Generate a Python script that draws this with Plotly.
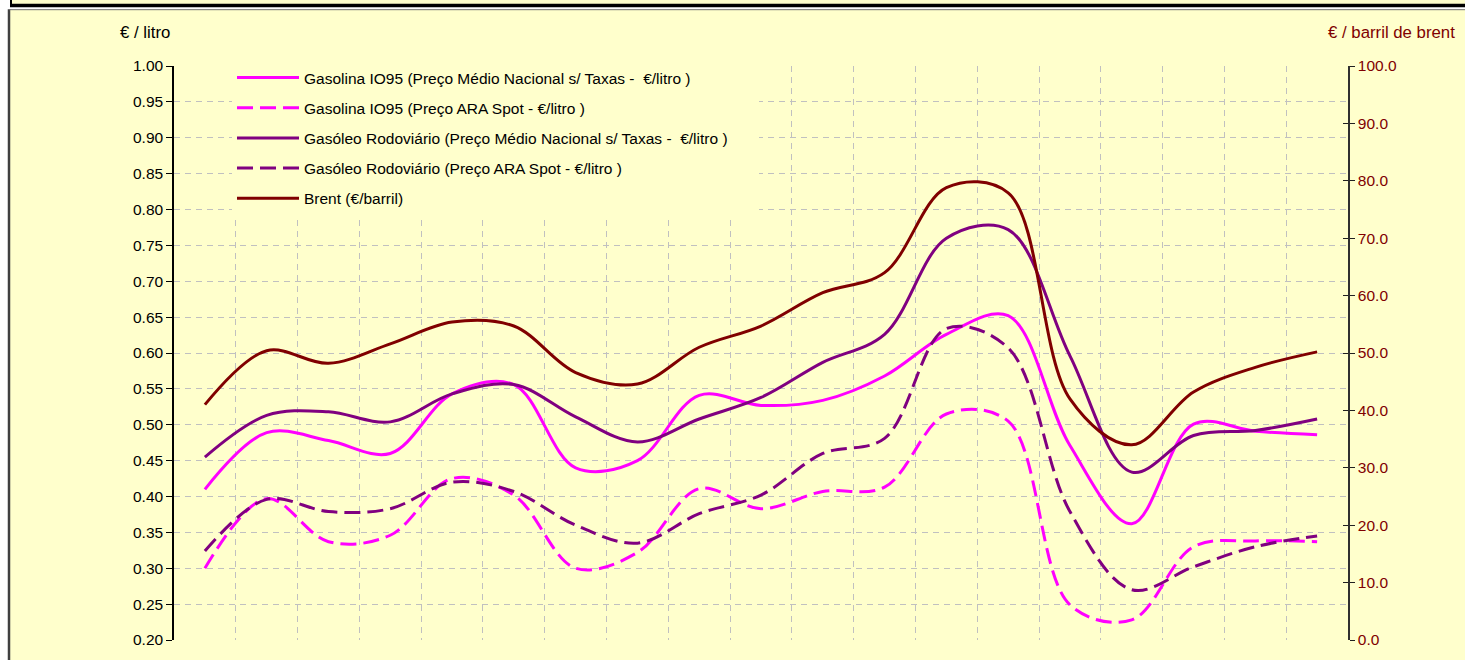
import plotly.graph_objects as go

W, H = 1465, 660
L, R, T, B = 174, 1348, 66, 642   # plot area in pixels

# ---------------- data ----------------
periodos = list(range(19))

gasolina_nacional = [0.410, 0.489, 0.478, 0.460, 0.543, 0.556, 0.440, 0.450, 0.541, 0.527,
                     0.534, 0.568, 0.626, 0.652, 0.471, 0.362, 0.501, 0.491, 0.486]
gasolina_ara = [0.300, 0.397, 0.337, 0.346, 0.425, 0.402, 0.300, 0.322, 0.411, 0.383,
                0.407, 0.413, 0.515, 0.505, 0.249, 0.228, 0.330, 0.338, 0.337]
gasoleo_nacional = [0.455, 0.513, 0.518, 0.504, 0.543, 0.556, 0.511, 0.476, 0.508, 0.538,
                    0.587, 0.626, 0.760, 0.772, 0.596, 0.434, 0.485, 0.492, 0.508]
gasoleo_ara = [0.324, 0.396, 0.379, 0.383, 0.420, 0.407, 0.360, 0.335, 0.376, 0.402,
               0.460, 0.481, 0.634, 0.607, 0.379, 0.270, 0.302, 0.330, 0.345]
brent = [41.0, 50.4, 48.2, 51.6, 55.4, 54.7, 46.6, 44.6, 51.0, 54.7,
         60.5, 64.0, 78.8, 77.9, 42.0, 34.0, 43.2, 47.5, 50.2]

left_ticks = [0.20, 0.25, 0.30, 0.35, 0.40, 0.45, 0.50, 0.55, 0.60, 0.65,
              0.70, 0.75, 0.80, 0.85, 0.90, 0.95, 1.00]
right_ticks = [0, 10, 20, 30, 40, 50, 60, 70, 80, 90, 100]

NB = "\u00a0"
nomes = [
    "Gasolina IO95 (Preço Médio Nacional s/ Taxas - " + NB + "€/litro )",
    "Gasolina IO95 (Preço ARA Spot - €/litro )",
    "Gasóleo Rodoviário (Preço Médio Nacional s/ Taxas - " + NB + "€/litro )" + NB * 6,
    "Gasóleo Rodoviário (Preço ARA Spot - €/litro )",
    "Brent (€/barril)",
]

MAGENTA = "#FF00FF"
PURPLE = "#800080"
DARKRED = "#800000"
BG = "#FFFFCC"
FONT = "Liberation Sans, Arial, sans-serif"
FS = 15.5
FS_TITLE = 16.8


def px_x(p):
    return (p - L) / (R - L)


def px_y(p):
    return (B - p) / (B - T)


fig = go.Figure()

series = [
    (gasolina_nacional, MAGENTA, "solid", "y"),
    (gasolina_ara, MAGENTA, "16px,7px", "y"),
    (gasoleo_nacional, PURPLE, "solid", "y"),
    (gasoleo_ara, PURPLE, "16px,7px", "y"),
    (brent, DARKRED, "solid", "y2"),
]
for i, (vals, col, dash, ax) in enumerate(series):
    fig.add_trace(go.Scatter(
        x=periodos, y=vals, name=nomes[i], mode="lines", yaxis=ax,
        line=dict(color=col, width=3, dash=dash, shape="spline", smoothing=1),
        legendgroup=f"g{i}", hoverinfo="skip",
    ))

# invisible trace to activate inner-tick axis
fig.add_trace(go.Scatter(x=[periodos[0]], y=[right_ticks[0]], yaxis="y3",
                         mode="markers", marker=dict(opacity=0), showlegend=False,
                         hoverinfo="skip"))

shapes = [
    # chart container
    dict(type="rect", xref="paper", yref="paper", layer="below",
         x0=px_x(9), x1=px_x(1500), y0=px_y(700), y1=px_y(9.5),
         fillcolor=BG, line=dict(width=0)),
    dict(type="line", xref="paper", yref="paper",
         x0=px_x(9), x1=px_x(9), y0=px_y(700), y1=px_y(9),
         line=dict(color="#404040", width=2.5)),
    dict(type="line", xref="paper", yref="paper",
         x0=px_x(9), x1=px_x(1500), y0=px_y(9.5), y1=px_y(9.5),
         line=dict(color="#707070", width=1)),
    # box above (its bottom edge)
    dict(type="rect", xref="paper", yref="paper", layer="below",
         x0=px_x(12), x1=px_x(1500), y0=px_y(4), y1=px_y(-5),
         fillcolor=BG, line=dict(width=0)),
    dict(type="rect", xref="paper", yref="paper",
         x0=px_x(10), x1=px_x(1500), y0=px_y(7), y1=px_y(3.5),
         fillcolor="black", line=dict(width=0)),
    dict(type="rect", xref="paper", yref="paper",
         x0=px_x(10), x1=px_x(12), y0=px_y(4), y1=px_y(-5),
         fillcolor="black", line=dict(width=0)),
]

annotations = [
    dict(text="€ / litro", xref="paper", yref="paper", x=px_x(145), y=px_y(32),
         xanchor="center", yanchor="middle", showarrow=False,
         font=dict(family=FONT, size=FS_TITLE, color="black")),
    dict(text="€ / barril de brent", xref="paper", yref="paper", x=px_x(1391.5), y=px_y(32),
         xanchor="center", yanchor="middle", showarrow=False,
         font=dict(family=FONT, size=FS_TITLE, color=DARKRED)),
]

fig.update_layout(
    width=W, height=H,
    margin=dict(l=L, r=W - R, t=T, b=H - B, pad=0),
    paper_bgcolor="white",
    plot_bgcolor=BG,
    font=dict(family=FONT, size=FS, color="black"),
    showlegend=True,
    legend=dict(
        x=px_x(232), y=px_y(61), xanchor="left", yanchor="top",
        bgcolor=BG, borderwidth=0, traceorder="grouped",
        tracegroupgap=7, itemwidth=62,
        font=dict(family=FONT, size=FS, color="black"),
        itemclick=False,
    ),
    xaxis=dict(
        range=[-0.5, 18.5], tickmode="linear", tick0=0.5, dtick=1,
        showticklabels=False, ticks="", showline=False, zeroline=False,
        showgrid=True, gridcolor="#C0C0C0", gridwidth=1, griddash="6px,5px",
        fixedrange=True,
    ),
    yaxis=dict(
        range=[0.20, 1.00], tickvals=left_ticks, tickformat=".2f",
        ticks="outside", ticklen=6, tickcolor="black", tickwidth=1,
        showline=True, linecolor="black", linewidth=1.5,
        showgrid=True, gridcolor="#C0C0C0", gridwidth=1, griddash="6px,5px",
        zeroline=False, tickfont=dict(family=FONT, size=FS, color="black"),
        fixedrange=True,
    ),
    yaxis2=dict(
        range=[0, 100], tickvals=right_ticks, tickformat=".1f",
        overlaying="y", side="right", anchor="x",
        ticks="outside", ticklen=5, tickcolor="#202020", tickwidth=1,
        showline=True, linecolor="#303030", linewidth=1.5,
        showgrid=False, zeroline=False,
        tickfont=dict(family=FONT, size=FS, color=DARKRED),
        fixedrange=True,
    ),
    yaxis3=dict(
        range=[0, 100], tickvals=right_ticks,
        overlaying="y", side="right", anchor="x",
        ticks="inside", ticklen=5, tickcolor="#202020", tickwidth=1,
        showline=False, showgrid=False, zeroline=False, showticklabels=False,
        fixedrange=True,
    ),
    shapes=shapes,
    annotations=annotations,
)

fig.write_html(
    "out.html",
    config={"displayModeBar": False},
    post_script="document.body.style.margin='0';document.body.style.overflow='hidden';",
)
